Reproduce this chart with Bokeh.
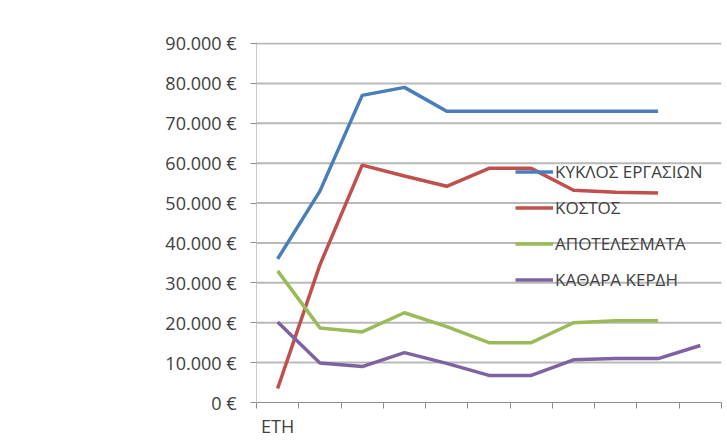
import numpy as np
from bokeh.plotting import figure
from bokeh.models import Range1d, FixedTicker, Legend, LegendItem
from bokeh.embed import file_html
from bokeh.resources import INLINE

categories = ["ΕΤΗ", "", "", "", "", "", "", "", "", "", ""]
nan = np.nan
kyklos = [36000, 53000, 77000, 79000, 73000, 73000, 73000, 73000, 73000, 73000, nan]
kostos = [3500, 34500, 59500, 56800, 54200, 58700, 58700, 53200, 52700, 52500, nan]
apotel = [33000, 18700, 17700, 22500, 19000, 15000, 15000, 20000, 20500, 20500, nan]
kerdi = [20200, 9900, 9000, 12500, 9800, 6800, 6800, 10700, 11000, 11000, 14300]
series_names = ["ΚΥΚΛΟΣ ΕΡΓΑΣΙΩΝ", "ΚΟΣΤΟΣ", "ΑΠΟΤΕΛΕΣΜΑΤΑ", "ΚΑΘΑΡΑ ΚΕΡΔΗ"]
colors = ["#4a7ebb", "#c0504d", "#9bbb59", "#7f63a1"]
y_ticks = [0, 10000, 20000, 30000, 40000, 50000, 60000, 70000, 80000, 90000]
y_labels = ["0 €", "10.000 €", "20.000 €", "30.000 €", "40.000 €", "50.000 €",
            "60.000 €", "70.000 €", "80.000 €", "90.000 €"]

n = len(categories)
xs = np.arange(n) + 0.5
YMAX = 90000
UNIT_PER_PX = 250  # 10.000 per 40 px

W, H = 724, 440
TOP, LEFT, FRAME_H = 42, 256, 361
x_range = Range1d(0, n)
y_range = Range1d(0, YMAX + UNIT_PER_PX)
p = figure(width=W, height=H, output_backend="svg", toolbar_location=None,
           x_range=x_range, y_range=y_range,
           min_border_left=LEFT, min_border_right=3, min_border_top=TOP,
           min_border_bottom=H - TOP - FRAME_H)
p.background_fill_color = "white"
p.border_fill_color = "white"
p.outline_line_color = None

FONT = "Open Sans"
TXT = "#404040"
AXIS = "#8c8c8c"
GRID = "#b9b9b9"

# x axis: boundary ticks (minor) and the category label at the first category
p.xaxis.ticker = FixedTicker(ticks=[xs[0]], minor_ticks=list(range(n + 1)))
p.xaxis.major_label_overrides = {float(xs[0]): categories[0]}
p.xaxis.major_tick_line_color = None
p.xaxis.minor_tick_line_color = AXIS
p.xaxis.minor_tick_in = 0
p.xaxis.minor_tick_out = 6
p.xaxis.axis_line_color = AXIS
p.xaxis.major_label_text_font = FONT
p.xaxis.major_label_text_font_size = "18px"
p.xaxis.major_label_text_color = TXT
p.xaxis.major_label_standoff = 5

# y axis
yticker = FixedTicker(ticks=y_ticks)
p.yaxis.ticker = yticker
p.yaxis.major_label_overrides = {t: l for t, l in zip(y_ticks, y_labels)}
p.yaxis.major_tick_line_color = AXIS
p.yaxis.major_tick_in = 0
p.yaxis.major_tick_out = 6
p.yaxis.minor_tick_line_color = None
p.yaxis.axis_line_color = "#c8c8c8"
p.yaxis.major_label_text_font = FONT
p.yaxis.major_label_text_font_size = "18px"
p.yaxis.major_label_text_color = TXT
p.yaxis.major_label_standoff = 14

p.xgrid.grid_line_color = None
p.ygrid.grid_line_color = None

# horizontal gridlines at the y ticks, across the whole x range (drawn below the series)
gy = y_ticks[1:]
p.segment(x0=[x_range.start] * len(gy), x1=[x_range.end] * len(gy), y0=gy, y1=gy,
          line_color=GRID, line_width=2)

items = []
for name, vals, c in zip(series_names, [kyklos, kostos, apotel, kerdi], colors):
    r = p.line(xs, np.array(vals, dtype=float), line_color=c, line_width=3.5)
    items.append(LegendItem(label=name, renderers=[r]))

legend = Legend(items=items, location=(259, 106), background_fill_alpha=0,
                border_line_color=None, padding=0, margin=0, spacing=3,
                glyph_width=38, glyph_height=33, label_standoff=2,
                label_text_font=FONT, label_text_font_size="17px", label_text_color=TXT)
p.add_layout(legend)

open("out.html", "w").write(file_html(p, INLINE))
